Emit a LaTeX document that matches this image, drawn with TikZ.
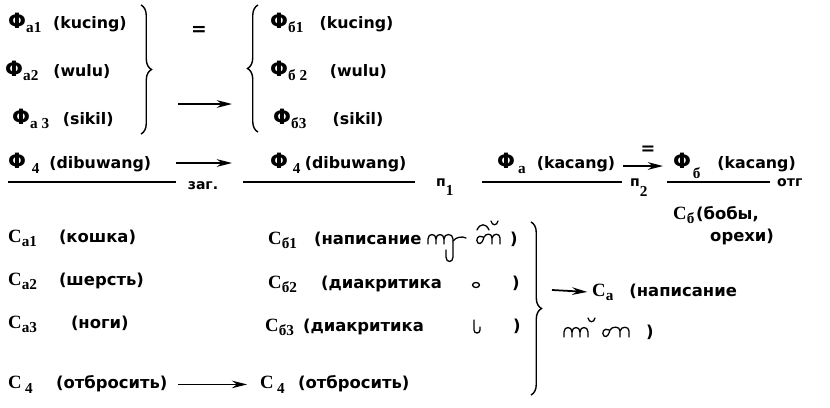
\documentclass[tikz,border=0pt]{standalone}
\usepackage{fontspec}
\setmainfont{DejaVu Sans}
\newfontfamily\serifC{Liberation Serif}
\usetikzlibrary{arrows.meta,decorations.pathreplacing}

\newcommand{\Fi}{{\fontsize{18}{18}\selectfont\bfseries Φ}}
\newcommand{\Ci}{{\fontsize{16}{16}\selectfont\serifC C}}
\newcommand{\lowsub}[2][4pt]{\raisebox{-#1}{\fontsize{13}{13}\selectfont\serifC\bfseries #2}}

\begin{document}
\begin{tikzpicture}[x=0.3mm, y=-0.3mm,
    lat/.style={anchor=base west, inner sep=0pt, font=\fontsize{13.5}{15}\selectfont\bfseries},
    cyr/.style={anchor=base west, inner sep=0pt, font=\fontsize{14}{16}\selectfont\bfseries},
    bar/.style={line width=1.1pt},
    brc/.style={decorate, decoration={brace, amplitude=9pt}, line width=1.2pt},
    arr/.style={->, line width=1.5pt},
    glyph/.style={line width=1.1pt, line cap=round, line join=round},
    >={Stealth[length=13pt,width=6.5pt]}
  ]
  \useasboundingbox (0,0) rectangle (830,407);

  % phonemes of the three words, left and right
  \node[lat] (fa1) at (8,28) {\Fi\lowsub{a1}\hspace{3.5mm}(kucing)};
  \node[lat] (fa2) at (5,76) {\Fi\lowsub{a2}\hspace{4.5mm}(wulu)};
  \node[lat] (fa3) at (12,124) {\Fi\lowsub{a 3}\hspace{4.1mm}(sikil)};
  \draw[brc] (141,5) -- (141,134);
  \node[lat, anchor=center, font=\fontsize{16}{16}\selectfont\bfseries] (eqa) at (199,31) {=};
  \coordinate (ra) at (178,104);
  \coordinate (rb) at (232,104);
  \draw[arr] (ra) -- (rb);
  \draw[brc] (258,132) -- (258,5);
  \node[lat] (fb1) at (270,28) {\Fi\lowsub{б1}\hspace{4.9mm}(kucing)};
  \node[lat] (fb2) at (270,76) {\Fi\lowsub{б 2}\hspace{6.8mm}(wulu)};
  \node[lat] (fb3) at (273,124) {\Fi\lowsub{б3}\hspace{7.9mm}(sikil)};

  % fractions row
  \node[lat] (fd1) at (8,168) {\Fi\hspace{1.7mm}\lowsub[5pt]{4}\hspace{3mm}(dibuwang)};
  \coordinate (b1l) at (8,182);
  \coordinate (b1r) at (176,182);
  \draw[bar] (b1l) -- (b1r);
  \node[cyr, anchor=base, font=\fontsize{12}{12}\selectfont\bfseries] (zag) at (203,189) {заг.};
  \coordinate (rc) at (176,163);
  \coordinate (rd) at (232,163);
  \draw[arr] (rc) -- (rd);
  \node[lat] (fd2) at (270,168) {\Fi\hspace{1.4mm}\lowsub[5pt]{4}\hspace{1.3mm}(dibuwang)};
  \coordinate (b2l) at (243,182);
  \coordinate (b2r) at (415,182);
  \draw[bar] (b2l) -- (b2r);
  \node[cyr, font=\fontsize{12}{12}\selectfont\bfseries] (p1) at (436,186) {п\lowsub[8pt]{1}};
  \node[lat] (fk1) at (497,168) {\Fi\hspace{0.9mm}\lowsub[5pt]{a}\hspace{3.3mm}(kacang)};
  \coordinate (b3l) at (482,182);
  \coordinate (b3r) at (622,182);
  \draw[bar] (b3l) -- (b3r);
  \coordinate (re) at (623,166);
  \coordinate (rf) at (663,166);
  \draw[arr] (re) -- (rf);
  \node[lat, anchor=center, font=\fontsize{15}{15}\selectfont\bfseries] (eqb) at (648,150) {=};
  \node[cyr, font=\fontsize{12}{12}\selectfont\bfseries] (p2) at (630,186) {п\lowsub[9pt]{2}};
  \node[lat] (fk2) at (673,168) {\Fi\hspace{0.5mm}\lowsub[9pt]{б}\hspace{5.1mm}(kacang)};
  \coordinate (b4l) at (667,182);
  \coordinate (b4r) at (770,182);
  \draw[bar] (b4l) -- (b4r);
  \node[cyr, font=\fontsize{12}{12}\selectfont\bfseries] (otg) at (777,186) {отг};
  \node[cyr] (cb) at (673,219) {\Ci\lowsub{б}\hspace{0.5mm}(бобы,};
  \node[cyr] (cbb) at (710,241) {орехи)};

  % meanings
  \node[cyr] (ca1) at (8,242) {\Ci\lowsub{a1}\hspace{6.6mm}(кошка)};
  \node[cyr] (ca2) at (8,285) {\Ci\lowsub{a2}\hspace{6.6mm}(шерсть)};
  \node[cyr] (ca3) at (8,328) {\Ci\lowsub{a3}\hspace{10.2mm}(ноги)};
  \node[cyr] (c4a) at (8,388) {\Ci\hspace{1mm}\lowsub[5pt]{4}\hspace{7mm}(отбросить)};
  \node[cyr] (c4b) at (260,388) {\Ci\hspace{1mm}\lowsub[5pt]{4}\hspace{4mm}(отбросить)};
  \draw[arr, shorten <=9pt, shorten >=11pt] (c4a.east) -- (c4b.west);
  \node[cyr] (cb1) at (268,244) {\Ci\lowsub{б1}\hspace{5.1mm}(написание};
  \node[cyr] (cb2) at (268,288) {\Ci\lowsub{б2}\hspace{7.2mm}(диакритика};
  \node[cyr] (cb3) at (265,331) {\Ci\lowsub{б3}\hspace{2.7mm}(диакритика};
  \node[cyr] (cp1) at (510,244) {)};
  \node[cyr] (cp2) at (512,288) {)};
  \node[cyr] (cp3) at (513,331) {)};
  \draw[brc, decoration={amplitude=9pt}] (531,222) -- (531,395);
  \coordinate (rg) at (552,290);
  \node[cyr] (ca) at (592,296) {\Ci\lowsub{a}\hspace{4.8mm}(написание};
  \draw[arr, shorten >=4pt] (rg) -- (ca.west);
  \node[cyr] (cp4) at (646,337) {)};

  % hand written letters
  \draw[glyph] (428,244) -- (428,239) .. controls (428,233) and (436,233) .. (436,239) -- (436,244);
  \draw[glyph] (436,239) .. controls (436,233) and (444,233) .. (444,239) -- (444,244);
  \draw[glyph] (444,239) .. controls (444,233) and (453,233) .. (453,239) -- (453,257)
    .. controls (453,263) and (446,263) .. (446,257) -- (446,250);
  \draw[glyph] (453,241) .. controls (456,237) and (462,236) .. (466,238);
  \draw[glyph] (483,237) .. controls (478,234) and (475,240) .. (478,243)
    .. controls (481,245) and (483,241) .. (484,237) .. controls (486,233) and (492,233) .. (492,238) -- (492,244);
  \draw[glyph] (492,238) .. controls (493,233) and (500,233) .. (500,238) -- (500,244);
  \draw[glyph] (477,230) .. controls (480,223) and (486,223) .. (489,230);
  \draw[glyph] (491,221) .. controls (492,226) and (497,226) .. (498,221);
  \draw[glyph] (476,285) ellipse (3.5 and 2.5);
  \draw[glyph] (474,320) -- (474,330) .. controls (474,334) and (480,334) .. (480,330) -- (480,327);
  \draw[glyph] (564,337) -- (564,332) .. controls (564,326) and (572,326) .. (572,332) -- (572,337);
  \draw[glyph] (572,332) .. controls (572,326) and (580,326) .. (580,332) -- (580,337);
  \draw[glyph] (580,332) .. controls (580,326) and (588,326) .. (588,332) -- (588,337);
  \draw[glyph] (588,318) .. controls (589,323) and (594,323) .. (595,318);
  \draw[glyph] (609,330) .. controls (604,327) and (601,333) .. (604,336)
    .. controls (607,338) and (609,334) .. (610,330) .. controls (612,326) and (620,326) .. (620,331) -- (620,337);
  \draw[glyph] (620,331) .. controls (621,326) and (629,326) .. (629,331) -- (629,337);
\end{tikzpicture}
\end{document}
